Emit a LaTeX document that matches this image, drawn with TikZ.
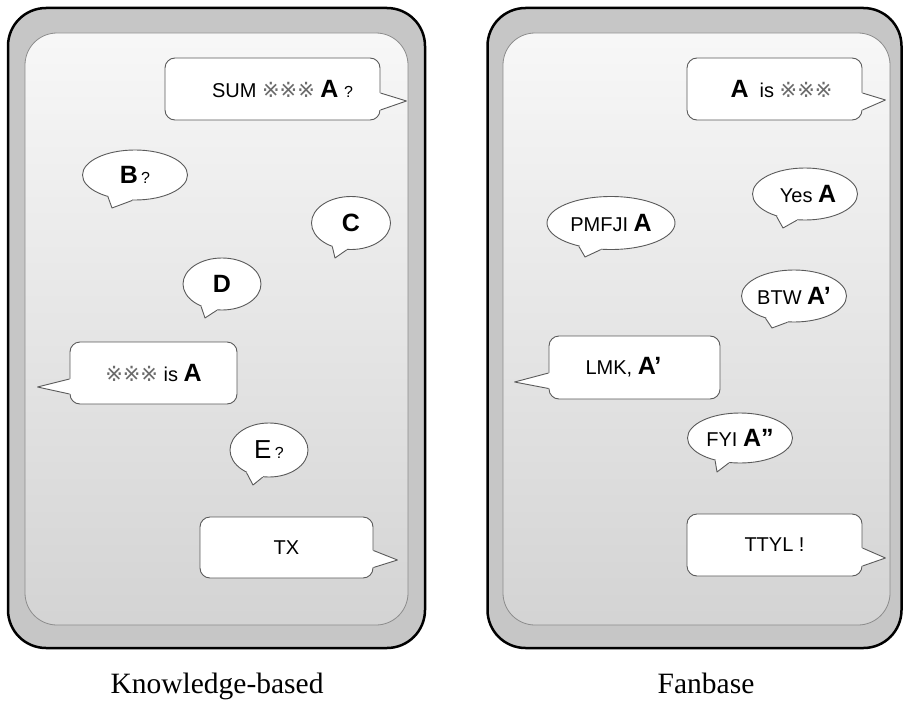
\documentclass[tikz,border=0pt]{standalone}
\usepackage{fontspec}
\setmainfont{Liberation Serif}
\newfontfamily\bubfont{Liberation Sans}
\newfontfamily\refmarkfont{DejaVu Sans}
\usetikzlibrary{shapes.geometric,calc}
\definecolor{bubc}{HTML}{5A5A5A}
\definecolor{framefill}{HTML}{C6C6C6}
\newcommand\kome{{\refmarkfont\fontsize{21}{22}\selectfont\textcolor[HTML]{6A6A6A}{※}}}
\newcommand\BA{\fontsize{25}{26}\selectfont\bfseries}
\newcommand\qm{{\fontsize{16}{18}\selectfont ?}}
\newcommand\bubtail[4]{%
  \path #2 coordinate (tA) #3 coordinate (tT) #4 coordinate (tB);
  \fill[white] (tA) -- (tT) -- (tB) -- ($(tB)!2.5pt!(#1.center)$) -- ($(tA)!2.5pt!(#1.center)$) -- cycle;
  \draw[bubline] (tA) -- (tT) -- (tB);
}
\begin{document}
\begin{tikzpicture}[x=1pt,y=-1pt,
  bubline/.style={draw=bubc, line width=0.9pt, line join=round},
  bub/.style={draw=bubc, line width=0.9pt, fill=white, inner sep=0pt,
    font=\bubfont\fontsize{20}{22}\selectfont},
  rbub/.style={bub, rectangle, rounded corners=10pt},
  ebub/.style={bub, ellipse},
  outerph/.style={rectangle, rounded corners=38pt, draw=black, line width=2.5pt, fill=framefill},
  innerph/.style={rectangle, rounded corners=32pt, draw=gray!90, line width=0.8pt,
    top color=gray!6, middle color=gray!36, bottom color=gray!34},
  lab/.style={font=\fontsize{29.5}{32}\selectfont}]
\useasboundingbox (0,0) rectangle (904,701);

% phones
\node[outerph, minimum width=417pt, minimum height=640pt] (lout) at (216.5,328) {};
\node[innerph, minimum width=383pt, minimum height=592pt] (lin) at (216.5,329) {};
\node[outerph, minimum width=414pt, minimum height=640pt] (rout) at (694.5,328) {};
\node[innerph, minimum width=387pt, minimum height=592pt] (rin) at (696.5,329) {};

% left phone bubbles
\node[rbub, minimum width=215pt, minimum height=62pt] (sum) at (272.5,89) {\hspace*{20pt}SUM \kome\kome\kome\ {\BA A} \qm};
\bubtail{sum}{($(sum.east)+(0,4)$)}{($(sum.east)+(26,12)$)}{($(sum.east)+(0,21)$)}

\node[ebub, minimum width=105pt, minimum height=50pt] (b) at (135,175) {{\BA B}\,\qm};
\bubtail{b}{(b.219)}{($(b.center)+(-23,33)$)}{(b.264)}

\node[ebub, minimum width=79pt, minimum height=53pt] (c) at (351,223) {{\BA C}};
\bubtail{c}{(c.232)}{($(c.center)+(-16,35)$)}{(c.261)}

\node[ebub, minimum width=78pt, minimum height=52pt] (d) at (222,284) {{\BA D}};
\bubtail{d}{(d.227)}{($(d.center)+(-17,34)$)}{(d.259)}

\node[rbub, minimum width=167pt, minimum height=62pt] (isa) at (153.5,373) {\kome\kome\kome\ is {\BA A}};
\bubtail{isa}{($(isa.west)+(0,6)$)}{($(isa.west)+(-32,14)$)}{($(isa.west)+(0,21)$)}

\node[ebub, minimum width=78pt, minimum height=54pt] (e) at (269,450) {{\fontsize{26}{26}\selectfont E}\,\qm};
\bubtail{e}{(e.225)}{($(e.center)+(-16,35)$)}{(e.257)}

\node[rbub, minimum width=173pt, minimum height=61pt] (tx) at (286.5,547.5) {TX};
\bubtail{tx}{($(tx.east)+(0,3)$)}{($(tx.east)+(24,12.5)$)}{($(tx.east)+(0,20)$)}

% right phone bubbles
\node[rbub, minimum width=175pt, minimum height=62pt] (ais) at (774.5,89) {\hspace*{14pt}{\BA A}\ \ is \kome\kome\kome};
\bubtail{ais}{($(ais.east)+(0,4)$)}{($(ais.east)+(23,11)$)}{($(ais.east)+(0,21)$)}

\node[ebub, minimum width=105pt, minimum height=52pt] (yes) at (805,194) {\hspace*{6pt}Yes {\BA A}};
\bubtail{yes}{(yes.218)}{($(yes.center)+(-22,34)$)}{(yes.253)}

\node[ebub, minimum width=128pt, minimum height=53pt] (pm) at (611,223) {PMFJI {\BA A}};
\bubtail{pm}{(pm.216)}{($(pm.center)+(-26,34)$)}{(pm.249)}

\node[ebub, minimum width=105pt, minimum height=52pt] (btw) at (794,296) {BTW {\BA A’}};
\bubtail{btw}{(btw.218)}{($(btw.center)+(-22,32)$)}{(btw.256)}

\node[rbub, minimum width=171pt, minimum height=63pt] (lmk) at (634.5,367.5) {LMK, {\BA A’}\hspace*{22pt}};
\bubtail{lmk}{($(lmk.west)+(0,5.5)$)}{($(lmk.west)+(-34,14.5)$)}{($(lmk.west)+(0,21)$)}

\node[ebub, minimum width=105pt, minimum height=50pt] (fyi) at (740,438) {FYI {\BA A”}};
\bubtail{fyi}{(fyi.222)}{($(fyi.center)+(-23,34)$)}{(fyi.246)}

\node[rbub, minimum width=175pt, minimum height=62pt] (ttyl) at (774.5,545) {TTYL !};
\bubtail{ttyl}{($(ttyl.east)+(0,3)$)}{($(ttyl.east)+(23,13)$)}{($(ttyl.east)+(0,21)$)}

% captions
\node[lab] (lk) at (217,686) {Knowledge-based};
\node[lab] (fb) at (706,683.5) {Fanbase};
\end{tikzpicture}
\end{document}
